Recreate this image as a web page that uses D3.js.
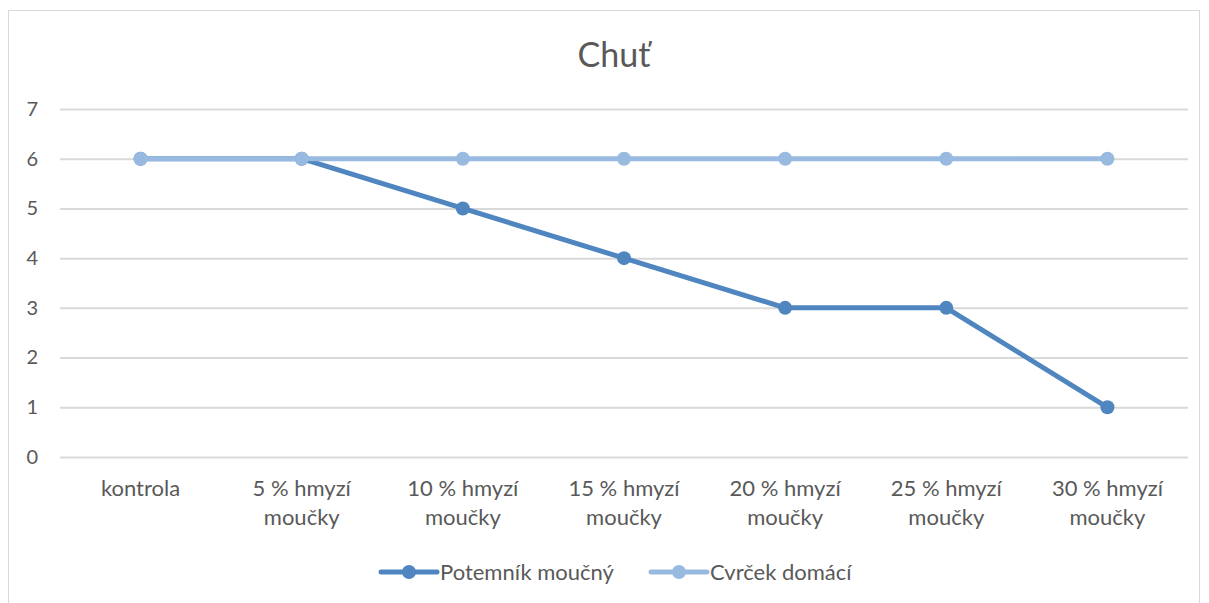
<!DOCTYPE html>
<html><head><meta charset="utf-8">
<script src="https://cdn.jsdelivr.net/npm/d3@7"></script>
<style>body{margin:0;background:#fff;} svg{display:block;}</style>
</head><body>
<svg id="c" width="1209" height="603"></svg>
<script>
const categories = ["kontrola","5 % hmyzí moučky","10 % hmyzí moučky","15 % hmyzí moučky","20 % hmyzí moučky","25 % hmyzí moučky","30 % hmyzí moučky"];
const potemnik = [6,6,5,4,3,3,1];
const cvrcek = [6,6,6,6,6,6,6];
const yTicks = [0,1,2,3,4,5,6,7];
const seriesNames = ["Potemník moučný","Cvrček domácí"];
const colors = ["#4f86c0","#98bae0"];

const svg = d3.select("#c");
const font = "Lato, Carlito, sans-serif";
svg.append("rect").attr("x",8.5).attr("y",10.5).attr("width",1191).attr("height",600)
  .attr("fill","#fff").attr("stroke","#d9d9d9");

const m = {l:60, r:1188, t:109, b:457};
const x = d3.scaleBand().domain(categories).range([m.l,m.r]);
const y = d3.scaleLinear().domain([0,7]).range([m.b,m.t]);

svg.append("text").attr("x",614).attr("y",67).attr("text-anchor","middle")
  .attr("font-family",font).attr("font-size",34).attr("fill","#595959").text("Chuť");

const yAxis = svg.append("g").attr("transform",`translate(${m.l},0)`)
  .call(d3.axisLeft(y).tickValues(yTicks).tickSize(-(m.r-m.l)).tickFormat(d3.format("d")));
yAxis.select(".domain").remove();
yAxis.selectAll(".tick line").attr("stroke","#d9d9d9").attr("stroke-width",2);
yAxis.selectAll(".tick text").attr("x",-22).attr("font-family",font).attr("font-size",20).attr("fill","#595959");

const xAxis = svg.append("g").attr("transform",`translate(0,${m.b})`)
  .call(d3.axisBottom(x).tickSize(0));
xAxis.select(".domain").remove();
xAxis.selectAll(".tick text").each(function(d){
  const t = d3.select(this); t.text(null);
  t.attr("font-family",font).attr("font-size",22).attr("fill","#595959").attr("y",0).attr("dy",null);
  const parts = d === "kontrola" ? [d] : [d.replace(" moučky",""), "moučky"];
  parts.forEach((p,i)=> t.append("tspan").attr("x",0).attr("y",39+i*29).text(p));
});

const line = d3.line().x((d,i)=>x(categories[i])+x.bandwidth()/2).y(d=>y(d));
[potemnik, cvrcek].forEach((vals,si)=>{
  svg.append("path").datum(vals).attr("d",line).attr("fill","none")
    .attr("stroke",colors[si]).attr("stroke-width",5).attr("stroke-linecap","round").attr("stroke-linejoin","round");
  svg.selectAll(null).data(vals).enter().append("circle")
    .attr("cx",(d,i)=>x(categories[i])+x.bandwidth()/2).attr("cy",d=>y(d)).attr("r",7).attr("fill",colors[si]);
});

const legX = [381, 651];
seriesNames.forEach((n,i)=>{
  const g = svg.append("g").attr("transform",`translate(${legX[i]},572)`);
  g.append("line").attr("x1",0).attr("x2",56).attr("stroke",colors[i]).attr("stroke-width",5).attr("stroke-linecap","round");
  g.append("circle").attr("cx",28).attr("r",7).attr("fill",colors[i]);
  g.append("text").attr("x",59).attr("y",8).attr("font-family",font).attr("font-size",22).attr("fill","#595959").text(n);
});
</script>
</body></html>
